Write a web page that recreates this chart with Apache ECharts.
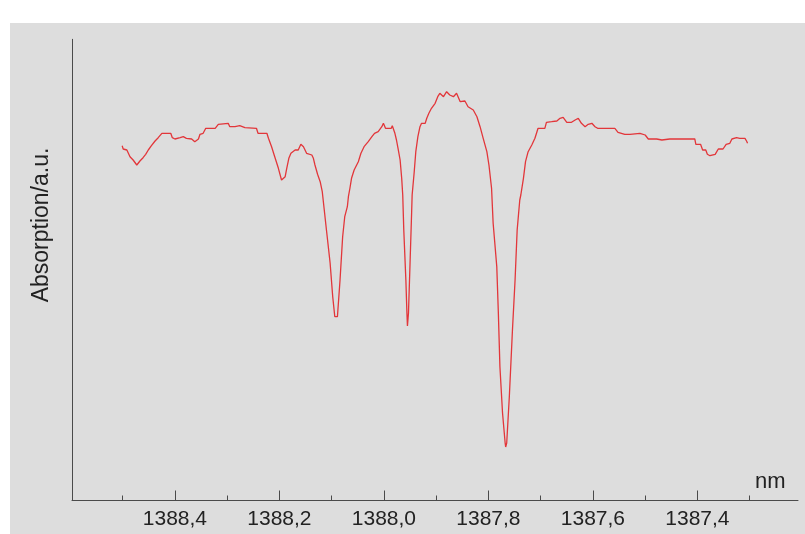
<!DOCTYPE html>
<html>
<head>
<meta charset="utf-8">
<script src="https://cdn.jsdelivr.net/npm/echarts@6/dist/echarts.min.js"></script>
<style>
html,body{margin:0;padding:0;background:#ffffff;}
#wrap{position:relative;width:805px;height:534px;overflow:hidden;}
#bg{position:absolute;left:10px;top:23px;width:795px;height:511px;background:#dddddd;}
#chart{position:absolute;left:0;top:0;width:805px;height:534px;}
</style>
</head>
<body>
<div id="wrap"><div id="bg"></div><div id="chart"></div></div>
<script>
// Wavelength (nm) and absorption (arbitrary units)
var wavelengthNm = [
1388.501,1388.499,1388.492,1388.486,1388.480,1388.473,1388.467,1388.461,1388.456,1388.451,
1388.445,1388.438,1388.432,1388.425,1388.422,1388.408,1388.405,1388.400,1388.390,1388.384,
1388.378,1388.368,1388.362,1388.355,1388.352,1388.346,1388.341,1388.323,1388.317,1388.314,
1388.298,1388.295,1388.285,1388.276,1388.266,1388.244,1388.241,1388.224,1388.221,1388.215,
1388.209,1388.202,1388.196,1388.193,1388.189,1388.186,1388.182,1388.178,1388.170,1388.164,
1388.159,1388.154,1388.148,1388.138,1388.135,1388.132,1388.127,1388.122,1388.118,1388.110,
1388.103,1388.098,1388.094,1388.092,1388.089,1388.084,1388.079,1388.075,1388.070,1388.068,
1388.065,1388.062,1388.057,1388.049,1388.044,1388.038,1388.030,1388.023,1388.018,1388.011,
1388.004,1388.001,1387.997,1387.986,1387.984,1387.979,1387.976,1387.973,1387.969,1387.966,
1387.964,1387.962,1387.958,1387.956,1387.955,1387.953,1387.950,1387.947,1387.946,1387.942,
1387.939,1387.935,1387.931,1387.928,1387.921,1387.918,1387.914,1387.909,1387.902,1387.897,
1387.893,1387.886,1387.880,1387.874,1387.867,1387.861,1387.854,1387.845,1387.839,1387.829,
1387.822,1387.816,1387.810,1387.803,1387.799,1387.794,1387.791,1387.784,1387.781,1387.778,
1387.773,1387.768,1387.767,1387.765,1387.760,1387.754,1387.749,1387.745,1387.740,1387.738,
1387.733,1387.729,1387.724,1387.717,1387.711,1387.705,1387.692,1387.689,1387.679,1387.669,
1387.663,1387.657,1387.650,1387.641,1387.634,1387.628,1387.622,1387.615,1387.609,1387.602,
1387.596,1387.591,1387.558,1387.552,1387.539,1387.529,1387.510,1387.500,1387.494,1387.478,
1387.468,1387.453,1387.405,1387.403,1387.394,1387.390,1387.384,1387.381,1387.376,1387.366,
1387.363,1387.360,1387.351,1387.345,1387.338,1387.334,1387.325,1387.319,1387.309,1387.306,
1387.304
];
var absorption = [
354.8,351.5,350.5,343.8,340.5,335.5,339.5,342.8,346.2,350.5,
354.8,359.5,362.8,367.2,367.2,367.2,362.8,361.5,362.8,363.8,
362.2,361.5,358.8,361.5,366.2,367.2,372.2,372.2,376.2,377.2,
377.2,373.8,373.8,374.8,372.8,372.2,367.2,367.2,362.2,353.8,
343.8,332.2,320.5,319.5,323.8,332.2,342.2,347.2,350.5,350.5,
356.2,353.8,347.2,345.5,342.2,335.5,326.2,318.8,308.8,270.5,
237.5,203.8,183.8,182.0,183.8,220.5,263.8,283.8,293.8,303.8,
312.5,322.2,330.5,338.8,347.2,353.8,358.8,363.8,367.2,368.8,
373.8,377.2,372.2,372.2,374.8,367.2,360.5,352.2,340.5,322.2,
305.5,270.5,220.5,187.5,174.5,187.5,237.5,287.5,305.5,328.8,
348.8,363.8,373.8,377.2,377.2,382.2,387.2,392.2,397.2,403.8,
407.2,403.8,408.8,405.5,403.8,407.2,398.8,399.5,393.8,390.5,
383.8,373.8,362.2,348.8,335.5,312.2,277.5,233.8,187.5,133.8,
87.5,57.5,53.5,57.5,103.8,170.5,220.5,270.5,300.5,305.5,
322.2,338.8,348.8,355.5,362.2,372.2,372.2,378.2,378.8,379.5,
382.2,383.2,378.2,378.2,380.5,382.2,377.2,373.8,376.2,377.2,
373.8,372.2,372.2,368.2,366.2,366.2,367.2,365.5,361.5,361.5,
360.5,361.5,361.5,356.2,356.2,350.5,350.5,346.2,344.8,346.2,
348.8,351.5,351.5,356.2,357.2,361.5,362.8,362.2,362.2,359.5,
357.2
];
var majorTicks = [1388.4, 1388.2, 1388.0, 1387.8, 1387.6, 1387.4];
var minorTicks = [1388.5, 1388.3, 1388.1, 1387.9, 1387.7, 1387.5, 1387.3];
var xLabelText = 'nm';
var yLabelText = 'Absorption/a.u.';

var points = wavelengthNm.map(function (w, i) { return [w, absorption[i]]; });
var FONT = "'Liberation Sans', Arial, sans-serif";
var chart = echarts.init(document.getElementById('chart'), null, {renderer: 'canvas'});
chart.setOption({
  backgroundColor: 'transparent',
  animation: false,
  grid: {left: 72, right: 7, top: 39.3, bottom: 33.5, containLabel: false},
  xAxis: [{
    type: 'value', inverse: true, min: 1387.2075, max: 1388.597, position: 'bottom',
    axisLine: {show: true, onZero: false, lineStyle: {color: '#4a4a4a', width: 1}},
    axisTick: {show: true, inside: true, length: 10, customValues: majorTicks, lineStyle: {color: '#4a4a4a'}},
    axisLabel: {show: true, customValues: majorTicks, margin: 8, color: '#222', fontSize: 21, fontFamily: FONT,
      formatter: function (v) { return v.toFixed(1).replace('.', ','); }},
    splitLine: {show: false}
  }, {
    type: 'value', inverse: true, min: 1387.2075, max: 1388.597, position: 'bottom', gridIndex: 0,
    axisLine: {show: false},
    axisTick: {show: true, inside: true, length: 5, customValues: minorTicks, lineStyle: {color: '#4a4a4a'}},
    axisLabel: {show: false},
    splitLine: {show: false}
  }],
  yAxis: {
    type: 'value', min: 0, max: 461.2,
    axisLine: {show: true, lineStyle: {color: '#4a4a4a', width: 1}},
    axisTick: {show: false}, axisLabel: {show: false}, splitLine: {show: false}
  },
  graphic: [
    {type: 'text', left: 755, top: 471, style: {text: xLabelText, fontSize: 22, fontFamily: FONT, fill: '#222'}},
    {type: 'text', x: 42, y: 225, rotation: Math.PI / 2,
      style: {text: yLabelText, fontSize: 23, fontFamily: FONT, fill: '#222', align: 'center', verticalAlign: 'middle'}}
  ],
  series: [{
    type: 'line', xAxisIndex: 0, data: points, showSymbol: false, symbol: 'none',
    lineStyle: {color: '#e2363a', width: 1.3}
  }]
});
</script>
</body>
</html>
